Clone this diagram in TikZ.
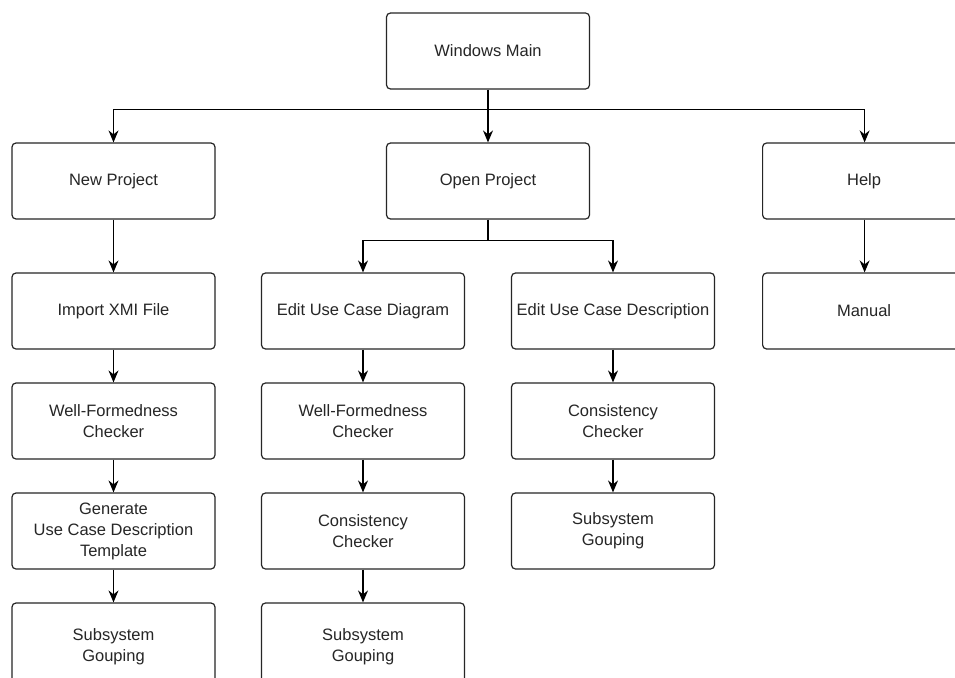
\documentclass[tikz,border=0pt]{standalone}
\usepackage{fontspec}
\setmainfont{Liberation Sans}
\usetikzlibrary{arrows.meta}
\begin{document}
\begin{tikzpicture}[x=1pt,y=-1pt,
  box/.style={draw=black!85, line width=1.2pt, rounded corners=4pt,
    minimum width=203pt, minimum height=76pt, inner sep=2pt,
    align=center, text=black!85,
    font=\fontsize{16.5}{21}\selectfont},
  widebox/.style={box, minimum width=230pt},
  tallbox/.style={box, minimum height=88pt},
  wire/.style={draw=black, line width=1.2pt},
  link/.style={wire, -{Stealth[length=12pt,width=10pt,inset=4pt]}}]
  \useasboundingbox (0,0) rectangle (955,677);
  \clip (0,0) rectangle (955,677);
  \fill[white] (0,0) rectangle (955,677);

  % top level
  \node[box] (wm)   at (488,51)    {Windows Main};
  \node[box] (np)   at (113.5,181) {New Project};
  \node[box] (op)   at (488,181)   {Open Project};
  \node[widebox, anchor=west] (help) at (762,181) {\hspace*{-27pt}Help};

  % New Project column
  \node[box] (xmi)  at (113.5,311) {Import XMI File};
  \node[box] (wf1)  at (113.5,421) {Well-Formedness\\Checker};
  \node[box] (gen)  at (113.5,531) {Generate\\Use Case Description\\Template};
  \node[tallbox] (sg1) at (113.5,647) {Subsystem\\Gouping};

  % Open Project columns
  \node[box] (eud)  at (363,311) {Edit Use Case Diagram};
  \node[box] (wf2)  at (363,421) {Well-Formedness\\Checker};
  \node[box] (cc2)  at (363,531) {Consistency\\Checker};
  \node[tallbox] (sg2) at (363,647) {Subsystem\\Gouping};

  \node[box] (eudesc) at (613,311) {Edit Use Case Description};
  \node[box] (cc3)  at (613,421) {Consistency\\Checker};
  \node[box] (sg3)  at (613,531) {Subsystem\\Gouping};

  % Help column
  \node[widebox, anchor=west] (man) at (762,311) {\hspace*{-27pt}Manual};
  \coordinate (helpin)  at ([xshift=-13pt]help.north);
  \coordinate (helpout) at ([xshift=-13pt]help.south);
  \coordinate (manin)   at ([xshift=-13pt]man.north);

  % connectors from the main window
  \draw[wire] (wm.south) -- ++(0,20) coordinate (wmfork);
  \draw[link] (wmfork) -| (np.north);
  \draw[link] (wmfork) -| (helpin);
  \draw[link] (wmfork) -- (op.north);

  % connectors from Open Project
  \draw[line width=2pt] (op.south) -- ++(0,21) coordinate (opfork);
  \draw[link] (opfork) -| (eud.north);
  \draw[link] (opfork) -| (eudesc.north);

  % chains
  \draw[link] (np.south) -- (xmi.north);
  \draw[link] (xmi.south) -- (wf1.north);
  \draw[link] (wf1.south) -- (gen.north);
  \draw[link] (gen.south) -- (sg1.north);

  \draw[link] (eud.south) -- (wf2.north);
  \draw[link] (wf2.south) -- (cc2.north);
  \draw[link] (cc2.south) -- (sg2.north);

  \draw[link] (eudesc.south) -- (cc3.north);
  \draw[link] (cc3.south) -- (sg3.north);

  \draw[link] (helpout) -- (manin);
\end{tikzpicture}
\end{document}
